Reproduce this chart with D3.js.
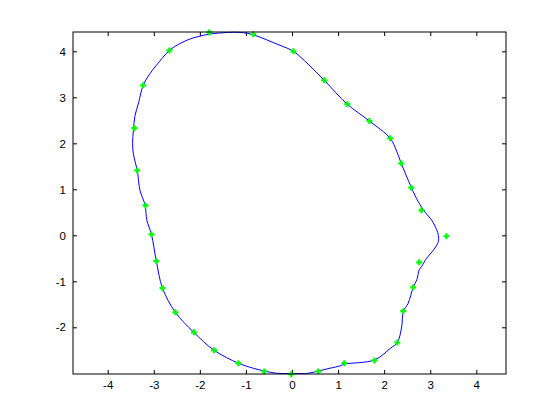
<!DOCTYPE html>
<meta charset="utf-8">
<style>
body { margin: 0; background: #fff; }
.axis text { font-family: "Liberation Sans", Arial, sans-serif; font-size: 11.5px; fill: #000; }
.axis line { stroke: #000; }
.axis path { display: none; }
</style>
<svg width="560" height="420"></svg>
<script src="https://cdn.jsdelivr.net/npm/d3@7"></script>
<script>
// sample points (green markers), counterclockwise from the right
var ptX = [3.35, 2.81, 2.59, 2.37, 2.13, 1.68, 1.20, 0.70, 0.03, -0.84, -1.795, -2.66,
           -3.23, -3.42, -3.36, -3.18, -3.05, -2.945, -2.81, -2.53, -2.13, -1.69, -1.165, -0.60,
           -0.015, 0.57, 1.135, 1.79, 2.285, 2.415, 2.63, 2.76];
var ptY = [-0.02, 0.543, 1.035, 1.565, 2.11, 2.485, 2.85, 3.37, 4.0, 4.37, 4.41, 4.02,
           3.26, 2.33, 1.41, 0.65, 0.02, -0.56, -1.15, -1.675, -2.11, -2.5, -2.78, -2.96,
           -3.02, -2.96, -2.78, -2.72, -2.33, -1.65, -1.13, -0.587];

// fitted closed curve (blue line)
var curveX = [3.175, 3.14, 3.03, 2.89, 2.74, 2.59, 2.37, 2.27, 2.13, 1.68, 1.20, 0.70, 0.35, 0.03,
              -0.26, -0.55, -0.84, -1.1, -1.4, -1.75, -2.0, -2.21, -2.43, -2.66, -2.94, -3.08, -3.23, -3.33, -3.41, -3.44,
              -3.46, -3.44, -3.36, -3.30, -3.19, -3.15, -3.05, -2.945, -2.81, -2.53, -2.13, -1.69, -1.165,
              -0.84, -0.60, -0.33, 0.0, 0.35, 0.57, 0.82, 1.04, 1.135, 1.79, 2.13, 2.285, 2.38, 2.415,
              2.52, 2.63, 2.71, 2.76, 2.81, 2.92, 3.07, 3.175];
var curveY = [0.0, 0.12, 0.33, 0.5, 0.73, 1.04, 1.565, 1.83, 2.11, 2.485, 2.85, 3.37, 3.72, 4.0,
              4.13, 4.25, 4.36, 4.41, 4.41, 4.38, 4.33, 4.27, 4.17, 4.02, 3.70, 3.52, 3.26, 2.88, 2.59, 2.30,
              2.0, 1.75, 1.42, 0.98, 0.66, 0.33, 0.02, -0.56, -1.15, -1.675, -2.11, -2.5, -2.78,
              -2.89, -2.95, -3.0, -3.005, -3.0, -2.95, -2.89, -2.84, -2.8, -2.71, -2.46, -2.33, -1.99, -1.66,
              -1.48, -1.13, -0.96, -0.75, -0.68, -0.5, -0.32, -0.14];

var xTicks = [-4, -3, -2, -1, 0, 1, 2, 3, 4];
var yTicks = [-2, -1, 0, 1, 2, 3, 4];

// plot box (MATLAB default axes position)
var boxLeft = 73, boxRight = 506, boxTop = 32, boxBottom = 374;

var svg = d3.select("svg");

var x = d3.scaleLinear().domain([-4.753, 4.644]).range([boxLeft, boxRight]);
var y = d3.scaleLinear().domain([-3.015, 4.42]).range([boxBottom, boxTop]);

// mirrored ticks on top and right, no labels
svg.append("g").attr("class", "axis")
    .attr("transform", "translate(0," + boxTop + ")")
    .call(d3.axisTop(x).tickValues(xTicks).tickSize(-4).tickFormat(""));
svg.append("g").attr("class", "axis")
    .attr("transform", "translate(" + boxRight + ",0)")
    .call(d3.axisRight(y).tickValues(yTicks).tickSize(-4).tickFormat(""));

svg.append("g").attr("class", "axis")
    .attr("transform", "translate(0," + boxBottom + ")")
    .call(d3.axisBottom(x).tickValues(xTicks).tickSize(-4).tickPadding(7).tickFormat(d3.format("d")));
svg.append("g").attr("class", "axis")
    .attr("transform", "translate(" + boxLeft + ",0)")
    .call(d3.axisLeft(y).tickValues(yTicks).tickSize(-4).tickPadding(7).tickFormat(d3.format("d")));

// plain hyphen minus like the original
svg.selectAll(".axis text").text(function() { return this.textContent.replace("\u2212", "-"); });

var line = d3.line()
    .x(function(d) { return x(d[0]); })
    .y(function(d) { return y(d[1]); })
    .curve(d3.curveCatmullRomClosed);

svg.append("path")
    .datum(d3.zip(curveX, curveY))
    .attr("d", line)
    .attr("fill", "none")
    .attr("stroke", "#0000ff")
    .attr("stroke-width", 1);

svg.append("g")
  .selectAll("path")
  .data(d3.zip(ptX, ptY))
  .enter().append("path")
    .attr("transform", function(d) { return "translate(" + x(d[0]) + "," + y(d[1]) + ")"; })
    .attr("d", "M-3,0H3M0,-3V3")
    .attr("stroke", "#00ff00")
    .attr("stroke-width", 2.2);

// axes box
svg.append("rect")
    .attr("x", boxLeft).attr("y", boxTop)
    .attr("width", boxRight - boxLeft).attr("height", boxBottom - boxTop)
    .attr("fill", "none")
    .attr("stroke", "#000")
    .attr("stroke-width", 1);
</script>
